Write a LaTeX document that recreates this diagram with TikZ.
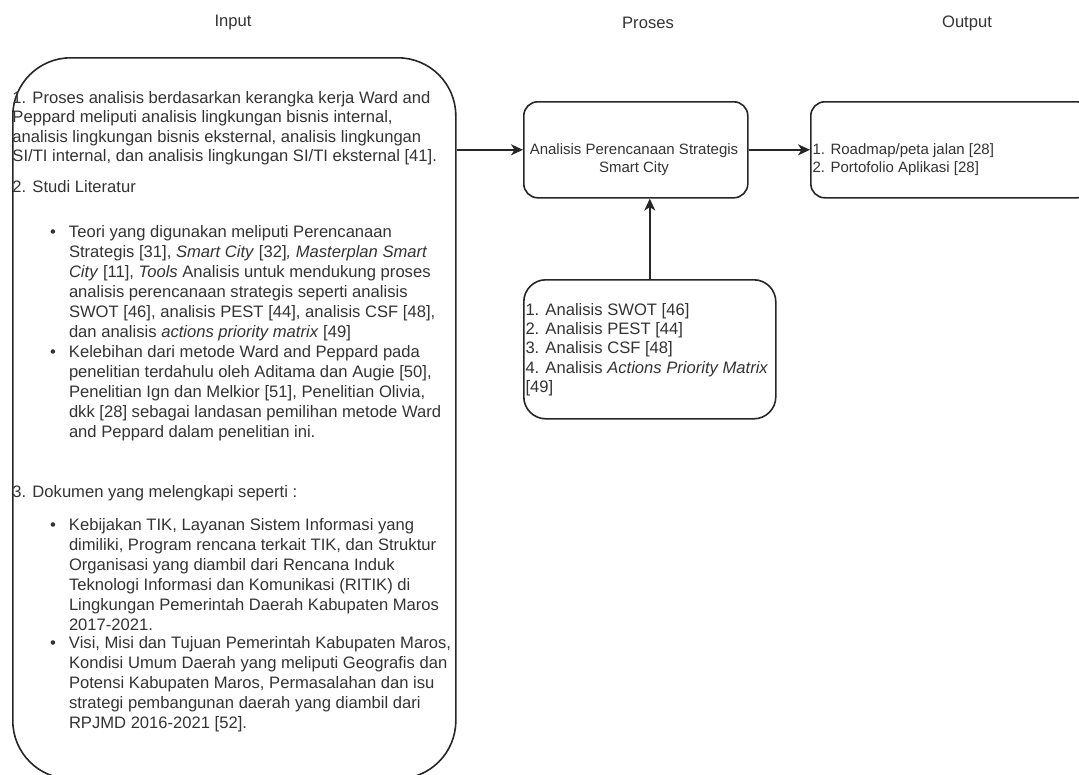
\documentclass[tikz,border=0pt]{standalone}
\usepackage{fontspec}
\setmainfont{Liberation Sans}
\usetikzlibrary{arrows.meta}
\definecolor{ink}{HTML}{333333}
\definecolor{edge}{HTML}{262626}
\tikzset{
  txt/.style={inner sep=0pt, outer sep=0pt, anchor=north west, align=left, text=ink,
    font=\fontsize{16.6}{#1}\selectfont},
  txt/.default=20,
  small/.style={font=\fontsize{15}{#1}\selectfont},
  head/.style={inner sep=0pt, text=ink, font=\fontsize{16.6}{20}\selectfont},
  box/.style={draw=edge, line width=1.6pt, rounded corners=#1, inner sep=0pt, anchor=north west},
  arr/.style={draw=edge, line width=1.6pt, -{Stealth[length=12pt,width=11pt,inset=3.5pt]}},
}
\newcommand{\bul}{\llap{\textbullet\hspace{13pt}}}
\begin{document}
\begin{tikzpicture}[x=1pt,y=-1pt]
\useasboundingbox (0,0) rectangle (1079,774);

% headings
\node[head] (hin) at (233,23) {Input};
\node[head] (hpr) at (648,23) {Proses};
\node[head] (hout) at (967,23) {Output};

% boxes
\node[box=58pt, minimum width=443pt, minimum height=721pt] (inbox) at (12,57) {};
\node[box=14pt, minimum width=224pt, minimum height=96pt] (proc) at (523,101) {};
\node[box=14pt, minimum width=280pt, minimum height=96pt] (outbox) at (810,101) {};
\node[box=22pt, minimum width=252pt, minimum height=139pt] (tools) at (523,279) {};

% input texts
\node[txt=19.3] (t1) at (12.5,91.5) {1. Proses analisis berdasarkan kerangka kerja Ward and\\
Peppard meliputi analisis lingkungan bisnis internal,\\
analisis lingkungan bisnis eksternal, analisis lingkungan\\
SI/TI internal, dan analisis lingkungan SI/TI eksternal [41].};
\node[txt] (t2) at (12.5,180.5) {2. Studi Literatur};
\node[txt] (t3) at (69,225.5) {\bul Teori yang digunakan meliputi Perencanaan\\
Strategis [31], \textit{Smart City} [32]\textit{, Masterplan Smart}\\
\textit{City} [11], \textit{Tools} Analisis untuk mendukung proses\\
analisis perencanaan strategis seperti analisis\\
SWOT [46], analisis PEST [44], analisis CSF [48],\\
dan analisis \textit{actions priority matrix} [49]};
\node[txt] (t4) at (69,345.5) {\bul Kelebihan dari metode Ward and Peppard pada\\
penelitian terdahulu oleh Aditama dan Augie [50],\\
Penelitian Ign dan Melkior [51], Penelitian Olivia,\\
dkk [28] sebagai landasan pemilihan metode Ward\\
and Peppard dalam penelitian ini.};
\node[txt] (t5) at (12.5,485.5) {3. Dokumen yang melengkapi seperti :};
\node[txt] (t6) at (69,518.5) {\bul Kebijakan TIK, Layanan Sistem Informasi yang\\
dimiliki, Program rencana terkait TIK, dan Struktur\\
Organisasi yang diambil dari Rencana Induk\\
Teknologi Informasi dan Komunikasi (RITIK) di\\
Lingkungan Pemerintah Daerah Kabupaten Maros\\
2017-2021.};
\node[txt] (t7) at (69,636.5) {\bul Visi, Misi dan Tujuan Pemerintah Kabupaten Maros,\\
Kondisi Umum Daerah yang meliputi Geografis dan\\
Potensi Kabupaten Maros, Permasalahan dan isu\\
strategi pembangunan daerah yang diambil dari\\
RPJMD 2016-2021 [52].};

% process text
\node[txt, small=18, anchor=north, align=center] (ptxt) at (634,144) {Analisis Perencanaan Strategis\\Smart City};
% output text
\node[txt, small=18] (otxt) at (812.5,144) {1. Roadmap/peta jalan [28]\\2. Portofolio Aplikasi [28]};
% tools text
\node[txt=19.2] (ttxt) at (525.5,303.5) {1. Analisis SWOT [46]\\2. Analisis PEST [44]\\3. Analisis CSF [48]\\4. Analisis \textit{Actions Priority Matrix}\\{[49]}};

% connectors
\draw[arr] (inbox.east |- proc.west) -- (proc.west);
\draw[arr] (proc.east) -- (outbox.west);
\draw[arr] (tools.north) -- (tools.north |- proc.south);
\end{tikzpicture}
\end{document}
